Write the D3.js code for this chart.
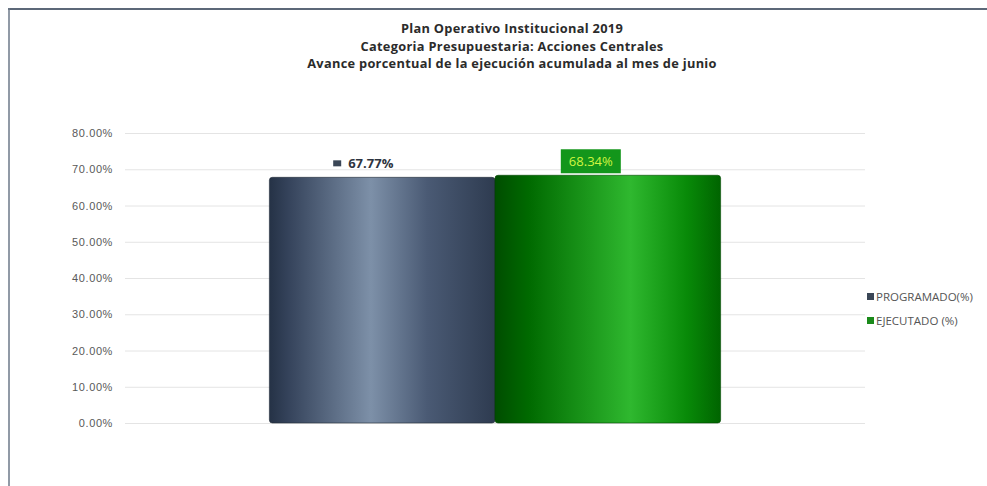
<!DOCTYPE html>
<html>
<head>
<meta charset="utf-8">
<script src="https://cdn.jsdelivr.net/npm/d3@7"></script>
<style>
  body { margin: 0; background: #fff; }
  svg { display: block; font-family: "Open Sans", "Liberation Sans", sans-serif; }
</style>
</head>
<body>
<svg id="chart"></svg>
<script>
// data
const titleLines = [
  "Plan Operativo Institucional 2019",
  "Categoria Presupuestaria: Acciones Centrales",
  "Avance porcentual de la ejecución acumulada al mes de junio"
];
const categories = ["Acciones Centrales"];
const seriesNames = ["PROGRAMADO(%)", "EJECUTADO (%)"];
const values = [0.6777, 0.6834];
const yTicks = [0, 0.1, 0.2, 0.3, 0.4, 0.5, 0.6, 0.7, 0.8];

const width = 987, height = 486;
const margin = { top: 133, right: 122, bottom: 63, left: 125 };

const svg = d3.select("#chart")
  .attr("width", width)
  .attr("height", height)
  .attr("viewBox", [0, 0, width, height]);

// frame lines (top and left)
svg.append("line").attr("x1", 8).attr("x2", width).attr("y1", 9).attr("y2", 9)
  .attr("stroke", "#5c6878").attr("stroke-width", 2);
svg.append("line").attr("x1", 9).attr("x2", 9).attr("y1", 8).attr("y2", height)
  .attr("stroke", "#6c7888").attr("stroke-width", 1.5);

const y = d3.scaleLinear([0, 0.8], [height - margin.bottom, margin.top]);
const x0 = d3.scaleBand(categories, [margin.left, width - margin.right]).paddingInner(0).paddingOuter(0.32);
const x1 = d3.scaleBand(seriesNames, [0, x0.bandwidth()]).padding(0);

// gradients
const defs = svg.append("defs");
const grads = [
  [["0%", "#253246"], ["8%", "#34425a"], ["45%", "#7d90a8"], ["70%", "#4a5a74"], ["100%", "#2e3b50"]],
  [["0%", "#004d00"], ["15%", "#006a00"], ["60%", "#2fb82f"], ["85%", "#088a08"], ["100%", "#006400"]]
];
grads.forEach((stops, i) => {
  const g = defs.append("linearGradient").attr("id", "grad" + i)
    .attr("x1", "0%").attr("x2", "100%").attr("y1", "0%").attr("y2", "0%");
  stops.forEach(([o, c]) => g.append("stop").attr("offset", o).attr("stop-color", c));
});

// title
svg.append("g")
  .attr("text-anchor", "middle")
  .attr("font-weight", "bold")
  .attr("font-size", 12.8)
  .attr("letter-spacing", 0.3)
  .attr("fill", "#2b2b2b")
  .selectAll("text")
  .data(titleLines)
  .join("text")
  .attr("x", 512)
  .attr("y", (d, i) => 33 + i * 17.5)
  .text(d => d);

// grid + y axis
const axis = svg.append("g")
  .attr("transform", `translate(${margin.left},0)`)
  .call(d3.axisLeft(y).tickValues(yTicks).tickFormat(d3.format(".2%"))
    .tickSize(-(width - margin.left - margin.right)).tickPadding(12));
axis.select(".domain").remove();
axis.selectAll(".tick line").attr("stroke", "#e4e4e4");
axis.selectAll(".tick text").attr("fill", "#595959").attr("font-size", 11).attr("letter-spacing", 0.6);

// bars
const bars = svg.append("g");
categories.forEach(c => {
  seriesNames.forEach((s, i) => {
    bars.append("rect")
      .attr("x", x0(c) + x1(s))
      .attr("y", y(values[i]))
      .attr("width", x1.bandwidth())
      .attr("height", y(0) - y(values[i]))
      .attr("rx", 3)
      .attr("fill", `url(#grad${i})`)
      .attr("stroke", i === 0 ? "#222b38" : "#004400")
      .attr("stroke-width", 0.6);
  });
});

// data labels
const c0 = categories[0];
const lx0 = x0(c0) + x1(seriesNames[0]) + x1.bandwidth() / 2;
svg.append("rect")
  .attr("x", lx0 - 49).attr("y", y(values[0]) - 17)
  .attr("width", 8).attr("height", 6).attr("fill", "#3a4656");
svg.append("text")
  .attr("x", lx0 - 34).attr("y", y(values[0]) - 9)
  .attr("font-weight", "bold").attr("font-size", 13).attr("fill", "#2e3440")
  .text(d3.format(".2%")(values[0]));

const lx1 = x0(c0) + x1(seriesNames[1]) + x1.bandwidth() / 2;
svg.append("rect")
  .attr("x", lx1 - 47).attr("y", y(values[1]) - 26)
  .attr("width", 60).attr("height", 24).attr("fill", "#13961b");
svg.append("text")
  .attr("x", lx1 - 17).attr("y", y(values[1]) - 9)
  .attr("text-anchor", "middle").attr("font-size", 13).attr("fill", "#d0f540")
  .text(d3.format(".2%")(values[1]));

// legend
const legend = svg.append("g").attr("transform", "translate(867,293)");
seriesNames.forEach((s, i) => {
  const g = legend.append("g").attr("transform", `translate(0,${i * 24})`);
  g.append("rect").attr("x", 0).attr("y", 0).attr("width", 7).attr("height", 7)
    .attr("fill", i === 0 ? "#3a4656" : "#1a8a1a");
  g.append("text").attr("x", 9).attr("y", 8)
    .attr("font-size", 11.5).attr("fill", "#555").text(s);
});
</script>
</body>
</html>
